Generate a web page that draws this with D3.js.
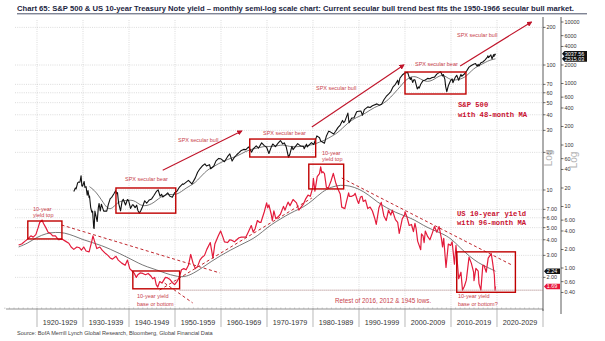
<!DOCTYPE html>
<html><head><meta charset="utf-8">
<script src="https://cdn.jsdelivr.net/npm/d3@7"></script>
<style>
body{margin:0;background:#fff;}
svg{display:block;font-family:"Liberation Sans",Arial,sans-serif;}
</style></head><body>
<svg id="chart" width="605" height="341"></svg>
<script>
// ---- decade labels along the bottom
const decades = ["1920-1929","1930-1939","1940-1949","1950-1959","1960-1969","1970-1979",
  "1980-1989","1990-1999","2000-2009","2010-2019","2020-2029"];

// ---- S&P 500, monthly closes (sampled)
const spxMonthly = [
["1928-01",17.6],["1928-05",20.0],["1928-07",19.4],["1928-11",24.2],["1929-01",24.9],["1929-05",24.8],
["1929-08",31.7],["1929-10",21.5],["1929-12",21.4],["1930-04",25.5],["1930-06",20.5],["1930-09",21.0],
["1930-12",15.3],["1931-02",18.1],["1931-05",13.9],["1931-06",14.8],["1931-09",9.7],["1931-12",8.1],
["1932-02",8.4],["1932-05",4.5],["1932-06",4.4],["1932-08",8.4],["1932-11",6.9],["1933-02",5.7],
["1933-05",9.6],["1933-07",11.2],["1933-10",8.5],["1934-01",10.9],["1934-07",8.4],["1935-03",8.4],
["1935-07",10.7],["1935-12",13.4],["1936-04",14.1],["1936-10",16.3],["1937-02",18.1],["1937-05",16.2],
["1937-07",16.8],["1937-10",11.2],["1938-03",8.5],["1938-07",12.2],["1938-10",13.1],["1939-04",10.6],
["1939-09",13.0],["1939-12",12.5],["1940-05",9.3],["1940-10",10.7],["1940-12",10.6],["1941-05",9.6],
["1941-09",10.5],["1941-12",8.7],["1942-04",7.8],["1942-08",8.6],["1942-12",9.8],["1943-06",12.4],
["1943-11",11.3],["1944-06",12.8],["1944-12",13.3],["1945-06",15.1],["1945-12",17.4],["1946-05",18.7],
["1946-10",14.7],["1947-02",15.8],["1947-05",14.3],["1947-12",15.3],["1948-06",16.7],["1948-11",14.8],
["1949-06",14.2],["1949-12",16.8],["1950-06",17.7],["1950-12",20.4],["1951-09",23.3],["1951-11",22.9],
["1952-12",26.6],["1953-09",23.3],["1954-06",29.2],["1954-12",36.0],["1955-06",41.0],["1955-12",45.5],
["1956-07",49.4],["1956-11",45.6],["1957-07",47.9],["1957-10",41.1],["1958-06",45.2],["1958-12",55.2],
["1959-07",60.5],["1959-12",59.9],["1960-10",53.4],["1961-06",64.6],["1961-12",71.6],["1962-06",54.8],
["1962-12",63.1],["1963-06",69.4],["1963-12",75.0],["1964-06",81.7],["1964-12",84.8],["1965-06",84.1],
["1966-01",92.9],["1966-09",76.6],["1967-01",86.6],["1967-09",96.7],["1968-03",89.1],["1968-11",108.4],
["1969-06",97.7],["1969-12",92.1],["1970-06",72.7],["1970-12",92.2],["1971-04",103.9],["1971-11",93.9],
["1972-06",107.1],["1972-12",118.1],["1973-06",104.3],["1973-10",108.3],["1974-03",93.9],["1974-09",63.5],
["1974-12",68.6],["1975-06",95.2],["1975-09",83.9],["1976-09",105.2],["1977-05",96.1],["1977-12",95.1],
["1978-02",87.0],["1978-08",103.3],["1978-10",93.2],["1979-09",109.3],["1980-03",102.1],["1980-11",140.5],
["1981-06",131.2],["1981-09",116.2],["1982-07",107.1],["1982-12",140.6],["1983-06",168.1],["1983-10",163.6],
["1984-07",150.7],["1984-12",167.2],["1985-06",191.9],["1985-12",211.3],["1986-06",250.8],["1986-09",231.3],
["1986-12",242.2],["1987-08",329.8],["1987-11",230.3],["1988-06",273.5],["1988-12",277.7],["1989-07",346.1],
["1989-12",353.4],["1990-06",358.0],["1990-10",304.0],["1991-03",375.2],["1991-12",417.1],["1992-06",408.1],
["1992-12",435.7],["1993-12",466.5],["1994-06",444.3],["1994-12",459.3],["1995-06",544.8],["1995-12",615.9],
["1996-06",670.6],["1996-12",740.7],["1997-06",885.1],["1997-12",970.4],["1998-06",1133.8],["1998-08",957.3],
["1998-12",1229.2],["1999-06",1372.7],["1999-12",1469.3],["2000-03",1498.6],["2000-08",1517.7],["2000-11",1315.2],
["2001-03",1160.3],["2001-05",1255.8],["2001-09",1040.9],["2001-12",1148.1],["2002-03",1147.4],["2002-07",911.6],
["2002-09",815.3],["2002-12",879.8],["2003-02",841.2],["2003-06",974.5],["2003-12",1111.9],["2004-06",1140.8],
["2004-12",1211.9],["2005-06",1191.3],["2005-12",1248.3],["2006-06",1270.2],["2006-12",1418.3],["2007-06",1503.4],
["2007-10",1549.4],["2008-03",1322.7],["2008-05",1400.4],["2008-09",1166.4],["2008-11",896.2],["2009-02",735.1],
["2009-06",919.3],["2009-12",1115.1],["2010-04",1186.7],["2010-06",1030.7],["2010-12",1257.6],["2011-04",1363.6],
["2011-09",1131.4],["2012-03",1408.5],["2012-05",1310.3],["2012-12",1426.2],["2013-06",1606.3],["2013-12",1848.4],
["2014-06",1960.2],["2014-12",2058.9],["2015-05",2107.4],["2015-09",1920.0],["2015-12",2043.9],["2016-02",1932.2],
["2016-07",2173.6],["2016-12",2238.8],["2017-06",2423.4],["2017-12",2673.6],["2018-01",2823.8],["2018-03",2640.9],
["2018-09",2914.0],["2018-12",2506.9],["2019-04",2945.8],["2019-05",2752.1],["2019-07",2980.4],["2019-08",2926.5],
["2019-09",3037.56]];

// ---- S&P 500, 48-month moving average
const spxMa48 = [
["1931-06",21],["1932-06",18.5],["1933-06",15],["1934-06",11.5],["1935-06",9.0],["1936-06",9.3],
["1937-06",11.5],["1938-06",12.3],["1939-06",12.5],["1940-06",12.8],["1941-06",12.2],["1942-06",10.5],
["1943-06",10.2],["1944-06",10.6],["1945-06",11.6],["1946-06",13.4],["1947-06",15.0],["1948-06",15.9],
["1949-06",15.5],["1950-06",15.8],["1951-06",17.5],["1952-06",20.0],["1953-06",22.0],["1954-06",24.5],
["1955-06",29.5],["1956-06",35.5],["1957-06",41.0],["1958-06",44.5],["1959-06",49.5],["1960-06",54.0],
["1961-06",58.0],["1962-06",62.0],["1963-06",65.5],["1964-06",72.0],["1965-06",79.0],["1966-06",84.0],
["1967-06",88.0],["1968-06",91.0],["1969-06",95.0],["1970-06",94.5],["1971-06",95.0],["1972-06",97.5],
["1973-06",101.0],["1974-06",97.0],["1975-06",93.0],["1976-06",94.0],["1977-06",95.0],["1978-06",95.5],
["1979-06",100.0],["1980-06",103.0],["1981-06",112.0],["1982-06",118.0],["1983-06",130.0],["1984-06",143.0],
["1985-06",160.0],["1986-06",188.0],["1987-06",222.0],["1988-06",252.0],["1989-06",280.0],["1990-06",300.0],
["1991-06",330.0],["1992-06",370.0],["1993-06",410.0],["1994-06",440.0],["1995-06",480.0],["1996-06",550.0],
["1997-06",660.0],["1998-06",800.0],["1999-06",980.0],["2000-06",1180.0],["2001-06",1300.0],["2002-06",1300.0],
["2003-06",1180.0],["2004-06",1080.0],["2005-06",1080.0],["2006-06",1180.0],["2007-06",1330.0],["2008-06",1380.0],
["2009-06",1200.0],["2010-06",1130.0],["2011-06",1150.0],["2012-06",1200.0],["2013-06",1330.0],["2014-06",1600.0],
["2015-06",1850.0],["2016-06",2000.0],["2017-06",2200.0],["2018-06",2400.0],["2019-09",2515.03]];

// ---- US 10-year Treasury yield, % (sampled monthly)
const yieldMonthly = [
["1916-01",3.63],["1916-09",3.7],["1917-06",3.9],["1918-01",4.06],["1918-09",4.3],["1919-03",4.2],
["1919-10",4.4],["1920-04",5.0],["1920-08",5.5],["1921-02",5.75],["1921-06",5.4],["1921-12",5.0],
["1922-06",4.6],["1922-12",4.5],["1923-06",4.3],["1924-01",4.3],["1924-09",4.0],["1925-06",4.05],
["1926-03",3.9],["1926-12",3.75],["1927-06",3.5],["1928-01",3.35],["1928-09",3.5],["1929-04",3.45],
["1929-09",3.3],["1930-03",3.5],["1930-09",3.25],["1931-05",3.2],["1931-12",3.9],["1932-03",4.3],
["1932-07",3.9],["1933-01",3.4],["1933-09",3.5],["1934-03",3.3],["1934-12",3.1],["1935-06",3.0],
["1935-12",2.86],["1936-06",2.8],["1937-03",2.95],["1937-09",2.75],["1938-06",2.6],["1939-03",2.5],
["1939-09",2.75],["1940-03",2.35],["1940-09",2.25],["1941-03",2.15],["1941-08",2.0],["1941-12",2.1],
["1942-06",2.17],["1943-01",2.15],["1943-08",2.1],["1944-03",2.15],["1944-10",2.05],["1945-03",1.95],
["1945-08",2.0],["1945-12",1.75],["1946-04",1.67],["1946-09",1.85],["1947-03",1.8],["1947-12",2.0],
["1948-06",1.98],["1948-12",1.92],["1949-06",1.82],["1949-12",1.75],["1950-06",1.85],["1950-12",2.0],
["1951-06",2.3],["1951-12",2.35],["1952-06",2.3],["1952-12",2.5],["1953-06",3.05],["1953-12",2.6],
["1954-06",2.35],["1954-12",2.45],["1955-06",2.75],["1955-12",2.9],["1956-06",3.0],["1956-12",3.35],
["1957-09",3.8],["1958-04",2.85],["1958-09",3.7],["1959-06",4.3],["1959-12",4.7],["1960-06",4.2],
["1960-10",3.85],["1961-06",3.8],["1961-12",4.0],["1962-06",3.95],["1962-12",3.85],["1963-06",4.0],
["1963-12",4.15],["1964-06",4.2],["1964-12",4.2],["1965-06",4.2],["1965-12",4.6],["1966-08",5.2],
["1967-01",4.6],["1967-06",4.9],["1967-12",5.7],["1968-06",5.5],["1968-09",5.5],["1969-06",6.7],
["1969-12",7.9],["1970-03",7.2],["1970-06",7.6],["1970-12",6.4],["1971-03",5.7],["1971-07",6.8],
["1971-12",5.9],["1972-06",6.1],["1972-12",6.4],["1973-08",7.4],["1973-12",6.9],["1974-05",7.6],
["1974-08",8.0],["1975-01",7.5],["1975-09",8.4],["1976-06",7.9],["1976-12",6.9],["1977-06",7.3],
["1977-12",7.7],["1978-06",8.5],["1978-12",9.1],["1979-06",8.9],["1979-12",10.4],["1980-02",12.4],
["1980-06",9.8],["1980-12",12.8],["1981-06",13.5],["1981-09",15.3],["1981-12",13.7],["1982-03",14.0],
["1982-07",13.5],["1982-12",10.5],["1983-05",10.4],["1983-12",11.8],["1984-06",13.6],["1984-12",11.5],
["1985-06",10.2],["1985-12",9.3],["1986-04",7.3],["1986-08",7.2],["1986-12",7.1],["1987-04",8.0],
["1987-10",9.5],["1987-12",8.9],["1988-06",8.9],["1988-12",9.1],["1989-03",9.4],["1989-09",8.2],
["1989-12",7.8],["1990-05",8.8],["1990-09",8.9],["1990-12",8.1],["1991-06",8.3],["1991-12",7.1],
["1992-06",7.3],["1992-12",6.8],["1993-06",5.95],["1993-10",5.3],["1994-05",7.2],["1994-11",7.96],
["1995-06",6.2],["1995-12",5.7],["1996-06",6.9],["1996-12",6.3],["1997-04",6.9],["1997-12",5.8],
["1998-06",5.5],["1998-10",4.5],["1999-06",5.9],["1999-12",6.3],["2000-01",6.7],["2000-06",6.1],
["2000-12",5.2],["2001-06",5.3],["2001-11",4.65],["2002-03",5.4],["2002-06",4.9],["2002-10",3.9],
["2003-06",3.33],["2003-08",4.45],["2003-12",4.3],["2004-03",3.8],["2004-06",4.7],["2004-12",4.25],
["2005-06",4.0],["2005-12",4.5],["2006-06",5.1],["2006-12",4.6],["2007-06",5.1],["2007-12",4.1],
["2008-03",3.5],["2008-06",4.1],["2008-12",2.4],["2009-06",3.7],["2009-12",3.6],["2010-04",3.85],
["2010-10",2.55],["2011-02",3.6],["2011-09",1.95],["2012-03",2.2],["2012-07",1.58],["2012-12",1.7],
["2013-05",1.9],["2013-12",2.9],["2014-06",2.6],["2014-12",2.2],["2015-01",1.88],["2015-06",2.36],
["2015-12",2.24],["2016-02",1.78],["2016-07",1.58],["2016-12",2.5],["2017-03",2.5],["2017-09",2.2],
["2018-02",2.85],["2018-10",3.1],["2019-01",2.7],["2019-06",2.1],["2019-08",1.58],["2019-09",1.69]];

// ---- 10-year yield, 96-month moving average
const yieldMa96 = [
["1916-01",3.5],["1918-01",3.75],["1920-01",4.2],["1922-01",4.5],["1924-01",4.6],["1926-01",4.55],
["1928-01",4.3],["1930-01",4.0],["1932-01",3.8],["1934-01",3.6],["1936-01",3.35],["1938-01",3.1],
["1940-01",2.85],["1942-01",2.6],["1944-01",2.42],["1946-01",2.3],["1948-01",2.15],["1950-01",2.05],
["1952-01",2.0],["1954-01",2.15],["1956-01",2.4],["1958-01",2.7],["1960-01",3.0],["1962-01",3.3],
["1964-01",3.6],["1966-01",3.9],["1968-01",4.3],["1970-01",5.0],["1972-01",5.6],["1974-01",6.2],
["1976-01",6.8],["1978-01",7.3],["1980-01",8.3],["1982-01",9.7],["1984-01",10.6],["1986-01",11.0],
["1988-01",10.8],["1990-01",10.2],["1992-01",9.2],["1994-01",8.0],["1996-01",7.2],["1998-01",6.6],
["2000-01",6.2],["2002-01",5.8],["2004-01",5.2],["2006-01",4.8],["2008-01",4.5],["2010-01",4.1],
["2012-01",3.45],["2014-01",2.95],["2016-01",2.6],["2018-01",2.4],["2019-09",2.24]];

// ---- axis ticks
const yieldTicks = [200,100,70,60,50,40,30,20,10,7,6,5,4,3,2];
const spxTicks = [10000,6000,4000,2000,1000,600,400,200,100,60,40,20,10,6,4,2,1,0.6,0.4];

// ---- annotations: boxes [from, to, high, low, scale]
const boxes = [
  ["1937-03","1950-03",20.0,7.8,"spx"],
  ["1966-04","1980-08",125,63.8,"spx"],
  ["2000-01","2013-04",1538,675,"spx"],
  ["1918-01","1925-06",5.65,4.06,"yld"],
  ["1940-11","1951-01",2.25,1.62,"yld"],
  ["1979-02","1986-09",16.1,10.2,"yld"],
  ["2011-04","2024-01",3.2,1.52,"yld"]
];
// arrows [fromDate, fromValue, toDate, toValue] on the S&P scale
const arrows = [
  ["1947-05",39,"1964-07",169],
  ["1979-10",196,"1999-10",2000],
  ["2012-01",1930,"2027-07",10000]
];
// dashed trend lines on the yield scale
const trendLines = [
  ["1925-05",5.25,"1959-10",2.17],
  ["1947-10",1.80,"1953-11",1.25],
  ["1946-09",1.585,"1979-10",8.63],
  ["1986-04",12.47,"2023-04",2.51]
];
const retestLevel = 1.58;

// ---- layout
const svg = d3.select("#chart");
const parse = d3.timeParse("%Y-%m");
const plotTop = 16, axisY = 309, innerX = 543, outerX = 561;

const x = d3.scaleTime().domain([new Date(1912,6,1), new Date(2030,0,1)]).range([2.5, innerX]);
const ySpx = d3.scaleLog().domain([10000, 1]).range([22, 268]);
const yYld = d3.scaleLog().domain([200, 1]).range([27.4, 315]);

const RED = "#e31b3b", DARKRED = "#c00000", NOTE = "#c8414b";

// ---- title: font size chosen so the line spans the title width
const titleWidth = 558;
const title = svg.append("text").attr("x", 17).attr("y", 11)
  .attr("font-family", "'Liberation Sans Narrow', 'Liberation Sans', sans-serif")
  .attr("font-weight", "bold").attr("font-size", 9).attr("fill", "#1c2541")
  .text("Chart 65: S&P 500 & US 10-year Treasury Note yield \u2013 monthly semi-log scale chart: Current secular bull trend best fits the 1950-1966 secular bull market.");
const natural = title.node().getComputedTextLength();
if (natural > 0) title.attr("font-size", Math.min(9.5, 9 * titleWidth / natural));
svg.append("line").attr("x1", 17).attr("x2", 587).attr("y1", 13.8).attr("y2", 13.8)
  .attr("stroke", "#1c2541").attr("stroke-width", 0.8);

// ---- grid
const grid = svg.append("g").attr("stroke", "#c4c4c4").attr("stroke-width", 0.6).attr("stroke-dasharray", "1,1.2");
yieldTicks.forEach(v => grid.append("line").attr("x1", 15).attr("x2", innerX)
  .attr("y1", yYld(v)).attr("y2", yYld(v)));
d3.range(1920, 2030, 10).forEach(yr => grid.append("line")
  .attr("x1", x(new Date(yr,0,1))).attr("x2", x(new Date(yr,0,1)))
  .attr("y1", plotTop + 4).attr("y2", axisY));

// ---- bottom axis
svg.append("line").attr("x1", 6).attr("x2", innerX).attr("y1", axisY).attr("y2", axisY)
  .attr("stroke", "#777").attr("stroke-width", 0.8);
const bottom = svg.append("g").attr("stroke", "#999").attr("stroke-width", 0.7);
d3.range(1920, 2031, 10).forEach(yr => bottom.append("line")
  .attr("x1", x(new Date(yr,0,1))).attr("x2", x(new Date(yr,0,1)))
  .attr("y1", axisY).attr("y2", axisY + 18));
d3.range(1913, 2030).forEach(yr => bottom.append("line")
  .attr("x1", x(new Date(yr,0,1))).attr("x2", x(new Date(yr,0,1)))
  .attr("y1", axisY - 1.5).attr("y2", axisY).attr("stroke-width", 0.5));
svg.append("g").selectAll("text").data(decades).join("text")
  .attr("x", (d, i) => x(new Date(1925 + i * 10, 0, 1)))
  .attr("y", 324.5).attr("text-anchor", "middle")
  .attr("font-size", 7.2).attr("fill", "#333").text(d => d);

svg.append("text").attr("x", 17).attr("y", 335).attr("font-size", 5.6).attr("fill", "#444")
  .text("Source: BofA Merrill Lynch Global Research, Bloomberg, Global Financial Data");

// ---- right axes
function rightAxis(ax, scale, ticks, fmt, yEnd) {
  const g = svg.append("g");
  g.append("line").attr("x1", ax).attr("x2", ax).attr("y1", plotTop + 1).attr("y2", yEnd)
    .attr("stroke", "#333").attr("stroke-width", 0.8);
  ticks.forEach(v => {
    g.append("line").attr("x1", ax).attr("x2", ax + 2.5).attr("y1", scale(v)).attr("y2", scale(v))
      .attr("stroke", "#333").attr("stroke-width", 0.7);
    g.append("text").attr("x", ax + 3.5).attr("y", scale(v)).attr("dy", "0.35em")
      .attr("font-size", 5.4).attr("fill", "#333").text(fmt(v));
  });
  return g;
}
const fmtLog = v => v >= 10 ? d3.format("d")(v) : d3.format(".2f")(v);
rightAxis(innerX, yYld, yieldTicks, fmtLog, axisY + 2);
rightAxis(outerX, ySpx, spxTicks, fmtLog, axisY + 5);
[[innerX + 9, 158], [outerX + 16, 160]].forEach(([lx, ly]) =>
  svg.append("text").attr("transform", `translate(${lx},${ly}) rotate(-90)`)
    .attr("text-anchor", "middle").attr("font-size", 10).attr("fill", "#b5b5b5").text("Log"));

// ---- series
const lineSpx = d3.line().x(d => x(parse(d[0]))).y(d => ySpx(d[1]));
const lineYld = d3.line().x(d => x(parse(d[0]))).y(d => yYld(d[1]));
const lineSpxMa = d3.line().curve(d3.curveBasis).x(d => x(parse(d[0]))).y(d => ySpx(d[1]));
const lineYldMa = d3.line().curve(d3.curveBasis).x(d => x(parse(d[0]))).y(d => yYld(d[1]));

svg.append("path").attr("d", lineYldMa(yieldMa96)).attr("fill", "none")
  .attr("stroke", "#555").attr("stroke-width", 0.8);
svg.append("path").attr("d", lineSpxMa(spxMa48)).attr("fill", "none")
  .attr("stroke", "#555").attr("stroke-width", 0.8);
svg.append("path").attr("d", lineYld(yieldMonthly)).attr("fill", "none")
  .attr("stroke", RED).attr("stroke-width", 1.2).attr("stroke-linejoin", "round");
svg.append("path").attr("d", lineSpx(spxMonthly)).attr("fill", "none")
  .attr("stroke", "#111").attr("stroke-width", 1.1).attr("stroke-linejoin", "round");

// ---- retest line
svg.append("line").attr("x1", x(parse("1951-01"))).attr("x2", innerX)
  .attr("y1", yYld(retestLevel)).attr("y2", yYld(retestLevel))
  .attr("stroke", "#9a6b6b").attr("stroke-width", 0.9).attr("stroke-dasharray", "1,1");

// ---- trend lines
trendLines.forEach(([d0, v0, d1, v1]) => svg.append("line")
  .attr("x1", x(parse(d0))).attr("y1", yYld(v0)).attr("x2", x(parse(d1))).attr("y2", yYld(v1))
  .attr("stroke", "#c0262d").attr("stroke-width", 1).attr("stroke-dasharray", "3,2.5"));

// ---- boxes
boxes.forEach(([d0, d1, hi, lo, s]) => {
  const sc = s === "spx" ? ySpx : yYld;
  svg.append("rect").attr("x", x(parse(d0))).attr("y", sc(hi))
    .attr("width", x(parse(d1)) - x(parse(d0))).attr("height", sc(lo) - sc(hi))
    .attr("fill", "none").attr("stroke", DARKRED).attr("stroke-width", 1.4);
});

// ---- arrows
svg.append("defs").append("marker").attr("id", "ah").attr("viewBox", "0 0 10 10")
  .attr("refX", 8).attr("refY", 5).attr("markerWidth", 5).attr("markerHeight", 5)
  .attr("orient", "auto").append("path").attr("d", "M0,0L10,5L0,10Z").attr("fill", "#c0142a");
arrows.forEach(([d0, v0, d1, v1]) => svg.append("line")
  .attr("x1", x(parse(d0))).attr("y1", ySpx(v0)).attr("x2", x(parse(d1))).attr("y2", ySpx(v1))
  .attr("stroke", "#c0142a").attr("stroke-width", 1.1).attr("marker-end", "url(#ah)"));

// ---- notes
const notes = [
  [33, 210.5, "10-year"], [33, 216.5, "yield top"],
  [125, 181, "SPX secular bear"],
  [178, 142, "SPX secular bull"],
  [263, 135, "SPX secular bear"],
  [322, 155, "10-year"], [322, 161, "yield top"],
  [316, 90, "SPX secular bull"],
  [415, 66, "SPX secular bear"],
  [457, 37, "SPX secular bull"],
  [137, 298, "10-year yield"], [137, 305.5, "base or bottom"],
  [458, 298, "10-year yield"], [458, 305.5, "base or bottom?"]
];
svg.append("g").selectAll("text").data(notes).join("text")
  .attr("x", d => d[0]).attr("y", d => d[1]).attr("font-size", 5.5).attr("fill", NOTE).text(d => d[2]);
svg.append("text").attr("x", 335).attr("y", 303).attr("font-size", 6.3).attr("fill", NOTE)
  .text("Retest of 2016, 2012 & 1945 lows.");

const boldNotes = [[458, 107, "S&P 500"], [458, 116.5, "with 48-month MA"],
  [457, 215.5, "US 10-year yield"], [457, 225, "with 96-month MA"]];
svg.append("g").selectAll("text").data(boldNotes).join("text")
  .attr("x", d => d[0]).attr("y", d => d[1])
  .attr("font-family", "'Liberation Mono', monospace").attr("font-weight", "bold")
  .attr("font-size", 7.2).attr("fill", "#c8102e").text(d => d[2]);

// ---- last-value tags
function tag(ax, v, sc, w, fill, label) {
  const yc = sc(v), h = 5.6;
  svg.append("path")
    .attr("d", `M${ax + 1},${yc}L${ax + 3.5},${yc - h / 2}L${ax + w},${yc - h / 2}L${ax + w},${yc + h / 2}L${ax + 3.5},${yc + h / 2}Z`)
    .attr("fill", fill);
  svg.append("text").attr("x", ax + 3.8).attr("y", yc).attr("dy", "0.36em")
    .attr("font-size", 5.4).attr("fill", "#fff").text(label);
}
const lastSpx = spxMonthly[spxMonthly.length - 1][1];
const lastSpxMa = spxMa48[spxMa48.length - 1][1];
const lastYld = yieldMonthly[yieldMonthly.length - 1][1];
const lastYldMa = yieldMa96[yieldMa96.length - 1][1];
tag(outerX, lastSpx, ySpx, 26, "#111", d3.format(".2f")(lastSpx));
tag(outerX, lastSpxMa, ySpx, 26, "#111", d3.format(".2f")(lastSpxMa));
tag(innerX, lastYldMa, yYld, 17, "#111", d3.format(".2f")(lastYldMa));
tag(innerX, lastYld, yYld, 17, "#e8173a", d3.format(".2f")(lastYld));
</script>
</body></html>
